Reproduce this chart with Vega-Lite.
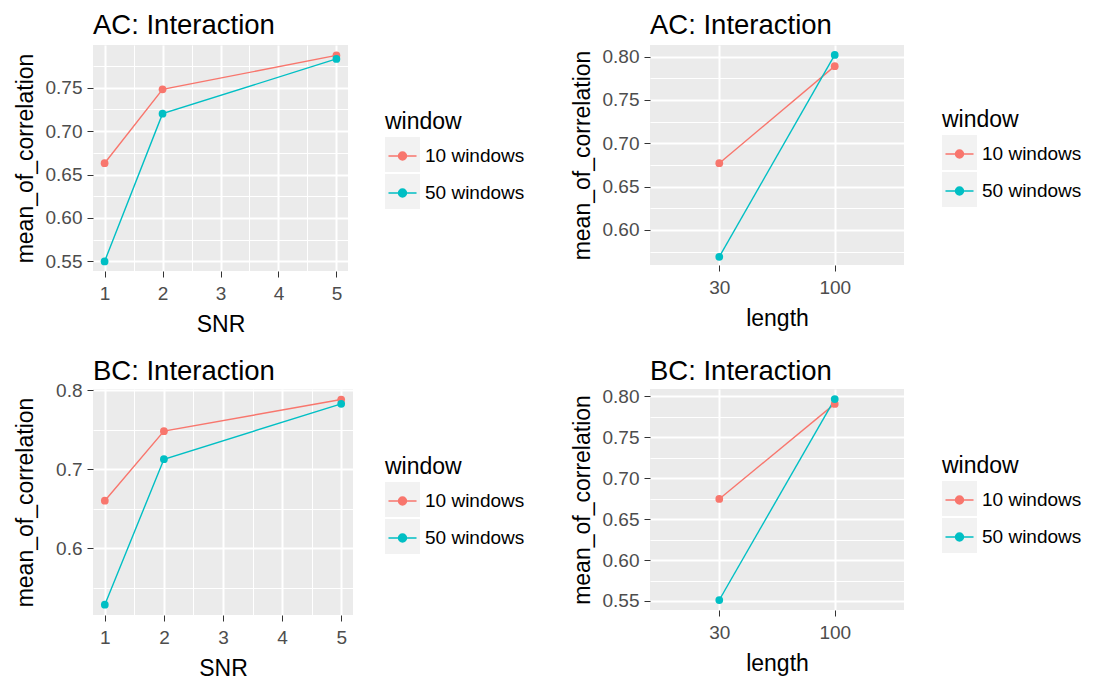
{
  "$schema": "https://vega.github.io/schema/vega-lite/v6.json",
  "background": "white",
  "padding": {"left": 14, "top": 11, "right": 0, "bottom": 0},
  "spacing": 21,
  "resolve": {"scale": {"color": "independent", "shape": "independent"}, "legend": {"color": "independent", "shape": "independent"}},
  "config": {
    "view": {"fill": "#EBEBEB", "stroke": null},
    "font": "Liberation Sans",
    "title": {"font": "Liberation Sans", "fontSize": 27.5, "fontWeight": "normal", "color": "black", "anchor": "start", "frame": "group", "offset": 6},
    "axis": {"domain": false, "labelFont": "Liberation Sans", "labelFontSize": 19, "labelColor": "#4D4D4D", "titleFont": "Liberation Sans", "titleFontSize": 23, "titleFontWeight": "normal", "titleColor": "black", "tickColor": "#333333", "tickSize": 6, "tickWidth": 1, "gridColor": "white", "gridOpacity": 1},
    "axisX": {"labelPadding": 7, "titlePadding": 10},
    "axisY": {"labelPadding": 5, "titlePadding": 8},
    "legend": {"orient": "none", "titleFont": "Liberation Sans", "titleFontSize": 23, "titleFontWeight": "normal", "titleColor": "black", "titlePadding": 5, "labelFont": "Liberation Sans", "labelFontSize": 19, "labelColor": "black", "labelOffset": 5, "rowPadding": 2}
  },
  "vconcat": [
    {
      "spacing": 46,
      "resolve": {"scale": {"color": "independent", "shape": "independent"}, "legend": {"color": "independent", "shape": "independent"}},
      "hconcat": [
        {
          "width": 255, "height": 226,
          "title": {"text": "AC: Interaction", "offset": 6},
          "data": {"values": [
            {"window": "10 windows", "SNR": 1, "mean_of_correlation": 0.663},
            {"window": "10 windows", "SNR": 2, "mean_of_correlation": 0.748},
            {"window": "10 windows", "SNR": 5, "mean_of_correlation": 0.787},
            {"window": "50 windows", "SNR": 1, "mean_of_correlation": 0.550},
            {"window": "50 windows", "SNR": 2, "mean_of_correlation": 0.720},
            {"window": "50 windows", "SNR": 5, "mean_of_correlation": 0.783}
          ]},
          "resolve": {"axis": {"x": "independent", "y": "independent"}},
          "layer": [
            {
              "mark": {"type": "line", "strokeWidth": 1.4},
              "encoding": {
                "x": {"field": "SNR", "type": "quantitative", "scale": {"domain": [0.8, 5.2], "nice": false, "zero": false},
                      "axis": {"orient": "bottom", "values": [1.5, 2.5, 3.5, 4.5], "grid": true, "gridWidth": 1, "labels": false, "ticks": false, "title": null}},
                "y": {"field": "mean_of_correlation", "type": "quantitative", "scale": {"domain": [0.539, 0.799], "nice": false, "zero": false},
                      "axis": {"orient": "left", "values": [0.575, 0.625, 0.675, 0.725, 0.775], "grid": true, "gridWidth": 1, "labels": false, "ticks": false, "title": null}},
                "color": {"field": "window", "type": "nominal", "scale": {"domain": ["10 windows", "50 windows"], "range": ["#F8766D", "#00BFC4"]},
                          "legend": {"title": "window", "legendX": 292, "legendY": 65.5, "zindex": 1, "symbolType": "M-0.85,0L0.85,0M-0.24,0A0.24,0.24,0,1,1,0.24,0A0.24,0.24,0,1,1,-0.24,0ZM0,-0.833L0,-0.833M0,0.833L0,0.833", "symbolSize": 1089, "symbolStrokeWidth": 1.5, "symbolOpacity": 1}}
              }
            },
            {
              "mark": {"type": "point", "filled": true, "size": 60, "opacity": 1},
              "encoding": {
                "x": {"field": "SNR", "type": "quantitative", "scale": {"domain": [0.8, 5.2], "nice": false, "zero": false},
                      "axis": {"orient": "bottom", "values": [1, 2, 3, 4, 5], "grid": true, "gridWidth": 2, "title": "SNR"}},
                "y": {"field": "mean_of_correlation", "type": "quantitative", "scale": {"domain": [0.539, 0.799], "nice": false, "zero": false},
                      "axis": {"orient": "left", "values": [0.55, 0.6, 0.65, 0.7, 0.75], "format": ".2f", "grid": true, "gridWidth": 2, "title": "mean_of_correlation"}},
                "color": {"field": "window", "type": "nominal", "scale": {"domain": ["10 windows", "50 windows"], "range": ["#F8766D", "#00BFC4"]}}
              }
            },
            {
              "mark": {"type": "point", "filled": true, "color": "#F2F2F2", "opacity": 0},
              "encoding": {
                "x": {"field": "SNR", "type": "quantitative", "scale": {"domain": [0.8, 5.2], "nice": false, "zero": false}, "axis": null},
                "y": {"field": "mean_of_correlation", "type": "quantitative", "scale": {"domain": [0.539, 0.799], "nice": false, "zero": false}, "axis": null},
                "shape": {"field": "window", "type": "nominal", "scale": {"range": ["square", "square"]},
                          "legend": {"title": null, "labelExpr": "''", "legendX": 292, "legendY": 92, "zindex": 0, "symbolSize": 1225, "symbolStrokeWidth": 0, "symbolOpacity": 1}}
              }
            }
          ]
        },
        {
          "width": 254, "height": 220,
          "title": {"text": "AC: Interaction", "offset": 6},
          "data": {"values": [
            {"window": "10 windows", "length": 30, "mean_of_correlation": 0.677},
            {"window": "10 windows", "length": 100, "mean_of_correlation": 0.789},
            {"window": "50 windows", "length": 30, "mean_of_correlation": 0.569},
            {"window": "50 windows", "length": 100, "mean_of_correlation": 0.802}
          ]},
          "resolve": {"axis": {"x": "independent", "y": "independent"}},
          "layer": [
            {
              "mark": {"type": "line", "strokeWidth": 1.4},
              "encoding": {
                "x": {"field": "length", "type": "ordinal", "scale": {"type": "point", "padding": 0.6}, "axis": null},
                "y": {"field": "mean_of_correlation", "type": "quantitative", "scale": {"domain": [0.5596, 0.8134], "nice": false, "zero": false},
                      "axis": {"orient": "left", "values": [0.575, 0.625, 0.675, 0.725, 0.775], "grid": true, "gridWidth": 1, "labels": false, "ticks": false, "title": null}},
                "color": {"field": "window", "type": "nominal", "scale": {"domain": ["10 windows", "50 windows"], "range": ["#F8766D", "#00BFC4"]},
                          "legend": {"title": "window", "legendX": 292, "legendY": 63.5, "zindex": 1, "symbolType": "M-0.85,0L0.85,0M-0.24,0A0.24,0.24,0,1,1,0.24,0A0.24,0.24,0,1,1,-0.24,0ZM0,-0.833L0,-0.833M0,0.833L0,0.833", "symbolSize": 1089, "symbolStrokeWidth": 1.5, "symbolOpacity": 1}}
              }
            },
            {
              "mark": {"type": "point", "filled": true, "size": 60, "opacity": 1},
              "encoding": {
                "x": {"field": "length", "type": "ordinal", "scale": {"type": "point", "padding": 0.6},
                      "axis": {"orient": "bottom", "grid": true, "gridWidth": 2, "labelAngle": 0, "title": "length"}},
                "y": {"field": "mean_of_correlation", "type": "quantitative", "scale": {"domain": [0.5596, 0.8134], "nice": false, "zero": false},
                      "axis": {"orient": "left", "values": [0.6, 0.65, 0.7, 0.75, 0.8], "format": ".2f", "grid": true, "gridWidth": 2, "title": "mean_of_correlation"}},
                "color": {"field": "window", "type": "nominal", "scale": {"domain": ["10 windows", "50 windows"], "range": ["#F8766D", "#00BFC4"]}}
              }
            },
            {
              "mark": {"type": "point", "filled": true, "color": "#F2F2F2", "opacity": 0},
              "encoding": {
                "x": {"field": "length", "type": "ordinal", "scale": {"type": "point", "padding": 0.6}, "axis": null},
                "y": {"field": "mean_of_correlation", "type": "quantitative", "scale": {"domain": [0.5596, 0.8134], "nice": false, "zero": false}, "axis": null},
                "shape": {"field": "window", "type": "nominal", "scale": {"range": ["square", "square"]},
                          "legend": {"title": null, "labelExpr": "''", "legendX": 292, "legendY": 90, "zindex": 0, "symbolSize": 1225, "symbolStrokeWidth": 0, "symbolOpacity": 1}}
              }
            }
          ]
        }
      ]
    },
    {
      "spacing": 46,
      "resolve": {"scale": {"color": "independent", "shape": "independent"}, "legend": {"color": "independent", "shape": "independent"}},
      "hconcat": [
        {
          "width": 260, "height": 226,
          "title": {"text": "BC: Interaction", "offset": -4},
          "data": {"values": [
            {"window": "10 windows", "SNR": 1, "mean_of_correlation": 0.660},
            {"window": "10 windows", "SNR": 2, "mean_of_correlation": 0.748},
            {"window": "10 windows", "SNR": 5, "mean_of_correlation": 0.788},
            {"window": "50 windows", "SNR": 1, "mean_of_correlation": 0.5285},
            {"window": "50 windows", "SNR": 2, "mean_of_correlation": 0.7125},
            {"window": "50 windows", "SNR": 5, "mean_of_correlation": 0.7825}
          ]},
          "resolve": {"axis": {"x": "independent", "y": "independent"}},
          "layer": [
            {
              "mark": {"type": "line", "strokeWidth": 1.4},
              "encoding": {
                "x": {"field": "SNR", "type": "quantitative", "scale": {"domain": [0.8, 5.2], "nice": false, "zero": false},
                      "axis": {"orient": "bottom", "values": [1.5, 2.5, 3.5, 4.5], "grid": true, "gridWidth": 1, "labels": false, "ticks": false, "title": null}},
                "y": {"field": "mean_of_correlation", "type": "quantitative", "scale": {"domain": [0.5155, 0.8013], "nice": false, "zero": false},
                      "axis": {"orient": "left", "values": [0.55, 0.65, 0.75], "grid": true, "gridWidth": 1, "labels": false, "ticks": false, "title": null}},
                "color": {"field": "window", "type": "nominal", "scale": {"domain": ["10 windows", "50 windows"], "range": ["#F8766D", "#00BFC4"]},
                          "legend": {"title": "window", "legendX": 292, "legendY": 66.5, "zindex": 1, "symbolType": "M-0.85,0L0.85,0M-0.24,0A0.24,0.24,0,1,1,0.24,0A0.24,0.24,0,1,1,-0.24,0ZM0,-0.833L0,-0.833M0,0.833L0,0.833", "symbolSize": 1089, "symbolStrokeWidth": 1.5, "symbolOpacity": 1}}
              }
            },
            {
              "mark": {"type": "point", "filled": true, "size": 60, "opacity": 1},
              "encoding": {
                "x": {"field": "SNR", "type": "quantitative", "scale": {"domain": [0.8, 5.2], "nice": false, "zero": false},
                      "axis": {"orient": "bottom", "values": [1, 2, 3, 4, 5], "grid": true, "gridWidth": 2, "title": "SNR"}},
                "y": {"field": "mean_of_correlation", "type": "quantitative", "scale": {"domain": [0.5155, 0.8013], "nice": false, "zero": false},
                      "axis": {"orient": "left", "values": [0.6, 0.7, 0.8], "format": ".1f", "grid": true, "gridWidth": 2, "title": "mean_of_correlation", "titlePadding": 18}},
                "color": {"field": "window", "type": "nominal", "scale": {"domain": ["10 windows", "50 windows"], "range": ["#F8766D", "#00BFC4"]}}
              }
            },
            {
              "mark": {"type": "point", "filled": true, "color": "#F2F2F2", "opacity": 0},
              "encoding": {
                "x": {"field": "SNR", "type": "quantitative", "scale": {"domain": [0.8, 5.2], "nice": false, "zero": false}, "axis": null},
                "y": {"field": "mean_of_correlation", "type": "quantitative", "scale": {"domain": [0.5155, 0.8013], "nice": false, "zero": false}, "axis": null},
                "shape": {"field": "window", "type": "nominal", "scale": {"range": ["square", "square"]},
                          "legend": {"title": null, "labelExpr": "''", "legendX": 292, "legendY": 93, "zindex": 0, "symbolSize": 1225, "symbolStrokeWidth": 0, "symbolOpacity": 1}}
              }
            }
          ]
        },
        {
          "width": 254, "height": 221,
          "title": {"text": "BC: Interaction", "offset": 2},
          "data": {"values": [
            {"window": "10 windows", "length": 30, "mean_of_correlation": 0.6745},
            {"window": "10 windows", "length": 100, "mean_of_correlation": 0.7905},
            {"window": "50 windows", "length": 30, "mean_of_correlation": 0.5512},
            {"window": "50 windows", "length": 100, "mean_of_correlation": 0.7964}
          ]},
          "resolve": {"axis": {"x": "independent", "y": "independent"}},
          "layer": [
            {
              "mark": {"type": "line", "strokeWidth": 1.4},
              "encoding": {
                "x": {"field": "length", "type": "ordinal", "scale": {"type": "point", "padding": 0.6}, "axis": null},
                "y": {"field": "mean_of_correlation", "type": "quantitative", "scale": {"domain": [0.539, 0.8087], "nice": false, "zero": false},
                      "axis": {"orient": "left", "values": [0.575, 0.625, 0.675, 0.725, 0.775], "grid": true, "gridWidth": 1, "labels": false, "ticks": false, "title": null}},
                "color": {"field": "window", "type": "nominal", "scale": {"domain": ["10 windows", "50 windows"], "range": ["#F8766D", "#00BFC4"]},
                          "legend": {"title": "window", "legendX": 292, "legendY": 65.5, "zindex": 1, "symbolType": "M-0.85,0L0.85,0M-0.24,0A0.24,0.24,0,1,1,0.24,0A0.24,0.24,0,1,1,-0.24,0ZM0,-0.833L0,-0.833M0,0.833L0,0.833", "symbolSize": 1089, "symbolStrokeWidth": 1.5, "symbolOpacity": 1}}
              }
            },
            {
              "mark": {"type": "point", "filled": true, "size": 60, "opacity": 1},
              "encoding": {
                "x": {"field": "length", "type": "ordinal", "scale": {"type": "point", "padding": 0.6},
                      "axis": {"orient": "bottom", "grid": true, "gridWidth": 2, "labelAngle": 0, "title": "length"}},
                "y": {"field": "mean_of_correlation", "type": "quantitative", "scale": {"domain": [0.539, 0.8087], "nice": false, "zero": false},
                      "axis": {"orient": "left", "values": [0.55, 0.6, 0.65, 0.7, 0.75, 0.8], "format": ".2f", "grid": true, "gridWidth": 2, "title": "mean_of_correlation"}},
                "color": {"field": "window", "type": "nominal", "scale": {"domain": ["10 windows", "50 windows"], "range": ["#F8766D", "#00BFC4"]}}
              }
            },
            {
              "mark": {"type": "point", "filled": true, "color": "#F2F2F2", "opacity": 0},
              "encoding": {
                "x": {"field": "length", "type": "ordinal", "scale": {"type": "point", "padding": 0.6}, "axis": null},
                "y": {"field": "mean_of_correlation", "type": "quantitative", "scale": {"domain": [0.539, 0.8087], "nice": false, "zero": false}, "axis": null},
                "shape": {"field": "window", "type": "nominal", "scale": {"range": ["square", "square"]},
                          "legend": {"title": null, "labelExpr": "''", "legendX": 292, "legendY": 92, "zindex": 0, "symbolSize": 1225, "symbolStrokeWidth": 0, "symbolOpacity": 1}}
              }
            }
          ]
        }
      ]
    }
  ]
}
